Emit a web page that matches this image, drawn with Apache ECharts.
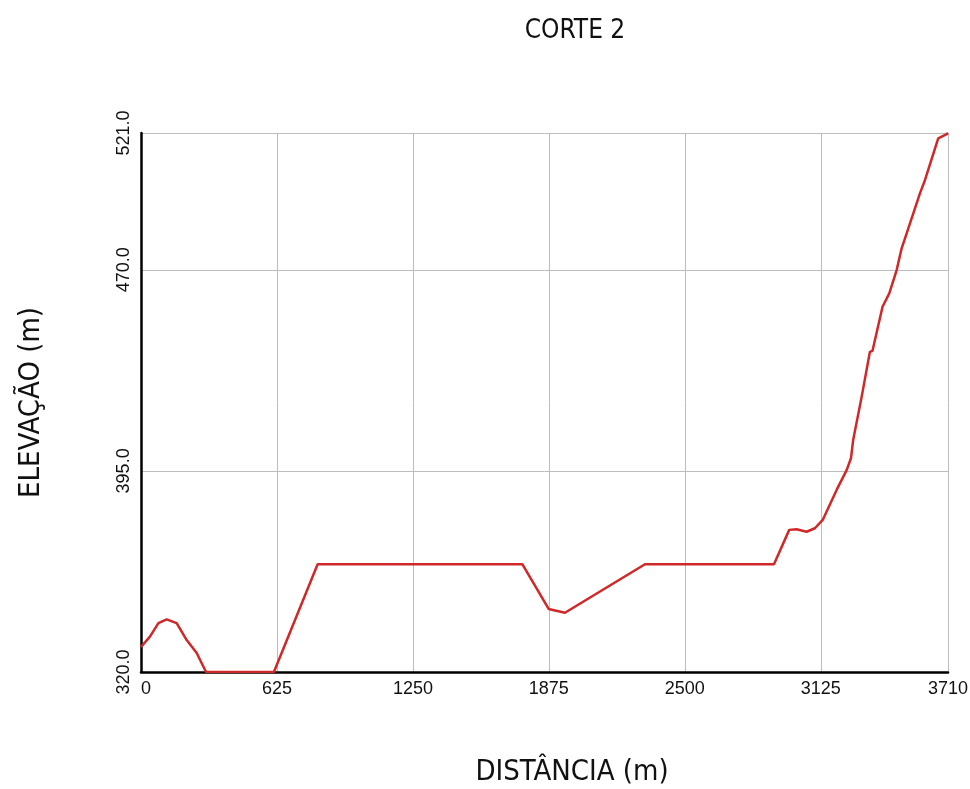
<!DOCTYPE html>
<html>
<head>
<meta charset="utf-8">
<script src="https://cdn.jsdelivr.net/npm/echarts@6/dist/echarts.min.js"></script>
<style>
  html, body { margin: 0; padding: 0; background: #fff; }
  #chart { width: 970px; height: 789px; }
</style>
</head>
<body>
<div id="chart"></div>
<script>
// perfil do corte 2 - distancia (m) x elevacao (m)
const distancia = [0, 41, 80, 118, 164, 210, 256, 299, 611, 812, 1753, 1874, 1949, 2317, 2910,
  2980, 3014, 3060, 3098, 3134, 3198, 3244, 3264, 3274, 3313, 3351, 3363, 3409, 3440, 3474,
  3497, 3520, 3581, 3604, 3665, 3704, 3710];
const elevacao = [329.3, 333.2, 338.2, 339.6, 338.2, 331.9, 327.1, 320, 320, 360.2, 360.2, 343.5, 342.1, 360.2, 360.2,
  373.0, 373.2, 372.3, 373.6, 376.7, 387.9, 395.3, 399.7, 406.5, 422.6, 439.4, 439.8, 456.2, 461.2, 469.9,
  478.0, 483.6, 498.5, 503.4, 519.0, 520.6, 521.0];
const xTicks = [0, 625, 1250, 1875, 2500, 3125, 3710];
const yTicks = [320, 395, 470, 521];

const chart = echarts.init(document.getElementById('chart'));

const fonteTitulo = '"DejaVu Sans Condensed", "Liberation Sans", sans-serif';

const option = {
  animation: false,
  title: {
    text: 'CORTE 2',
    left: 570,
    top: 13,
    textAlign: 'center',
    textStyle: { fontFamily: fonteTitulo, fontWeight: 'normal', fontSize: 26, color: '#111' }
  },
  grid: { left: 141, right: 22, top: 133, bottom: 117, containLabel: false, outerBoundsMode: 'none' },
  xAxis: {
    type: 'value',
    min: xTicks[0],
    max: xTicks[xTicks.length - 1],
    interval: xTicks[1] - xTicks[0],
    name: 'DISTÂNCIA (m)',
    nameLocation: 'middle',
    nameGap: 86,
    nameTextStyle: { fontFamily: fonteTitulo, fontSize: 29, color: '#111', padding: [0, 0, 0, 55] },
    axisLine: { show: true, lineStyle: { color: '#000', width: 2.5 } },
    axisTick: { show: false },
    axisLabel: {
      margin: 8,
      fontFamily: 'Liberation Sans',
      fontSize: 18,
      color: '#111',
      alignMinLabel: 'left',
      formatter: v => String(v)
    },
    splitLine: { show: true, lineStyle: { color: '#bdbdbd', width: 1 } }
  },
  yAxis: {
    type: 'value',
    min: yTicks[0],
    max: yTicks[yTicks.length - 1],
    interval: yTicks[1] - yTicks[0],
    name: 'ELEVAÇÃO (m)',
    nameLocation: 'middle',
    nameGap: 95,
    nameTextStyle: { fontFamily: fonteTitulo, fontSize: 29, color: '#111' },
    axisLine: { show: true, lineStyle: { color: '#000', width: 2.5 } },
    axisTick: { show: false },
    axisLabel: {
      rotate: 90,
      margin: 8,
      fontFamily: 'Liberation Sans',
      fontSize: 18,
      color: '#111',
      formatter: v => v.toFixed(1)
    },
    splitLine: { show: true, lineStyle: { color: '#bdbdbd', width: 1 } }
  },
  series: [{
    type: 'line',
    data: distancia.map((d, i) => [d, elevacao[i]]),
    showSymbol: false,
    lineStyle: { color: '#d02828', width: 2.5 },
    z: 5
  }]
};

chart.setOption(option);
</script>
</body>
</html>
